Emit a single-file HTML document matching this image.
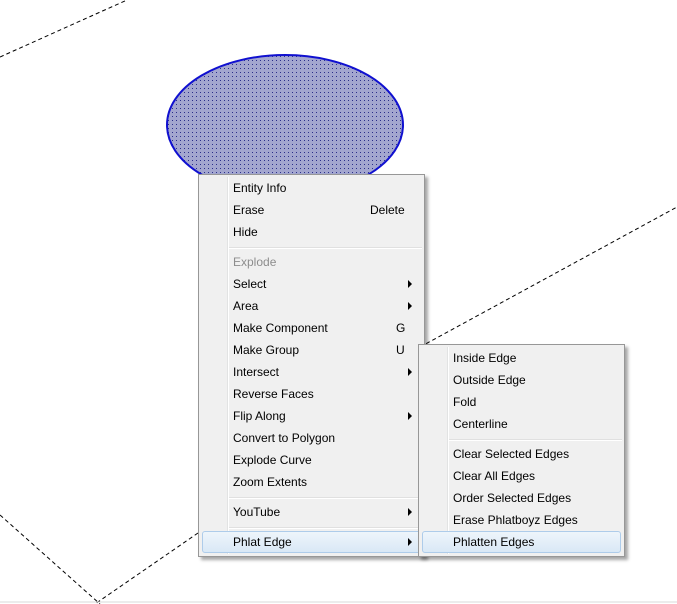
<!DOCTYPE html><html><head><style>
body{margin:0;width:677px;height:604px;background:#fff;position:relative;overflow:hidden;font-family:"Liberation Sans",sans-serif;font-size:12px;color:#000}
.m{position:absolute;background:#f0f0f0;border:1px solid #979797;box-shadow:3px 3px 3px rgba(0,0,0,.35)}
.g{position:absolute;top:2px;bottom:2px;width:1px;background:#e2e3e3;border-right:1px solid #fff}
.i{position:absolute;left:0;right:0;height:22px;line-height:20px}
.i span{position:absolute}
.s{position:absolute;height:1px;background:#e0e0e0;border-bottom:1px solid #fff}
.a{position:absolute;width:0;height:0;border-left:4px solid #000;border-top:4px solid transparent;border-bottom:4px solid transparent;top:6px}
.h{position:absolute;height:20px;border:1px solid #aeccea;border-radius:3px;background:linear-gradient(#eef5fb,#d9e8f6)}
</style></head><body>
<svg width="677" height="604" style="position:absolute;left:0;top:0">
<defs><pattern id="p" width="4" height="4" patternUnits="userSpaceOnUse"><rect width="4" height="4" fill="#a3a6cf"/><rect width="1" height="1" fill="#2a2e8a"/></pattern></defs>
<g stroke="#000" stroke-dasharray="4,3" fill="none">
<line x1="0" y1="57" x2="127" y2="0"/>
<line x1="420" y1="347" x2="677" y2="207"/>
<line x1="0" y1="515" x2="100" y2="604"/>
<line x1="198" y1="533" x2="95" y2="604"/>
</g>
<ellipse cx="285" cy="125" rx="118" ry="70" fill="url(#p)" stroke="#1010d0" stroke-width="2"/>
<line x1="0" y1="602" x2="677" y2="602" stroke="#d8d8d8"/>
</svg>
<div class="m" style="left:198px;top:174px;width:225px;height:381px">
<div class="g" style="left:28px"></div>
<div class="h" style="left:3px;top:356px;width:217px"></div>
<div class="i" style="top:3px"><span style="left:34px">Entity Info</span></div>
<div class="i" style="top:25px"><span style="left:34px">Erase</span><span style="left:171px">Delete</span></div>
<div class="i" style="top:47px"><span style="left:34px">Hide</span></div>
<div class="s" style="left:30px;right:2px;top:72px"></div>
<div class="i" style="top:77px;color:#8d8d8d"><span style="left:34px">Explode</span></div>
<div class="i" style="top:99px"><span style="left:34px">Select</span><i class="a" style="left:209px"></i></div>
<div class="i" style="top:121px"><span style="left:34px">Area</span><i class="a" style="left:209px"></i></div>
<div class="i" style="top:143px"><span style="left:34px">Make Component</span><span style="left:197px">G</span></div>
<div class="i" style="top:165px"><span style="left:34px">Make Group</span><span style="left:197px">U</span></div>
<div class="i" style="top:187px"><span style="left:34px">Intersect</span><i class="a" style="left:209px"></i></div>
<div class="i" style="top:209px"><span style="left:34px">Reverse Faces</span></div>
<div class="i" style="top:231px"><span style="left:34px">Flip Along</span><i class="a" style="left:209px"></i></div>
<div class="i" style="top:253px"><span style="left:34px">Convert to Polygon</span></div>
<div class="i" style="top:275px"><span style="left:34px">Explode Curve</span></div>
<div class="i" style="top:297px"><span style="left:34px">Zoom Extents</span></div>
<div class="s" style="left:30px;right:2px;top:322px"></div>
<div class="i" style="top:327px"><span style="left:34px">YouTube</span><i class="a" style="left:209px"></i></div>
<div class="s" style="left:30px;right:2px;top:352px"></div>
<div class="i" style="top:357px"><span style="left:34px">Phlat Edge</span><i class="a" style="left:209px"></i></div>
</div>
<div class="m" style="left:418px;top:344px;width:205px;height:211px">
<div class="g" style="left:28px"></div>
<div class="h" style="left:3px;top:186px;width:197px"></div>
<div class="i" style="top:3px"><span style="left:34px">Inside Edge</span></div>
<div class="i" style="top:25px"><span style="left:34px">Outside Edge</span></div>
<div class="i" style="top:47px"><span style="left:34px">Fold</span></div>
<div class="i" style="top:69px"><span style="left:34px">Centerline</span></div>
<div class="s" style="left:30px;right:2px;top:94px"></div>
<div class="i" style="top:99px"><span style="left:34px">Clear Selected Edges</span></div>
<div class="i" style="top:121px"><span style="left:34px">Clear All Edges</span></div>
<div class="i" style="top:143px"><span style="left:34px">Order Selected Edges</span></div>
<div class="i" style="top:165px"><span style="left:34px">Erase Phlatboyz Edges</span></div>
<div class="i" style="top:187px"><span style="left:34px">Phlatten Edges</span></div>
</div>
</body></html>
